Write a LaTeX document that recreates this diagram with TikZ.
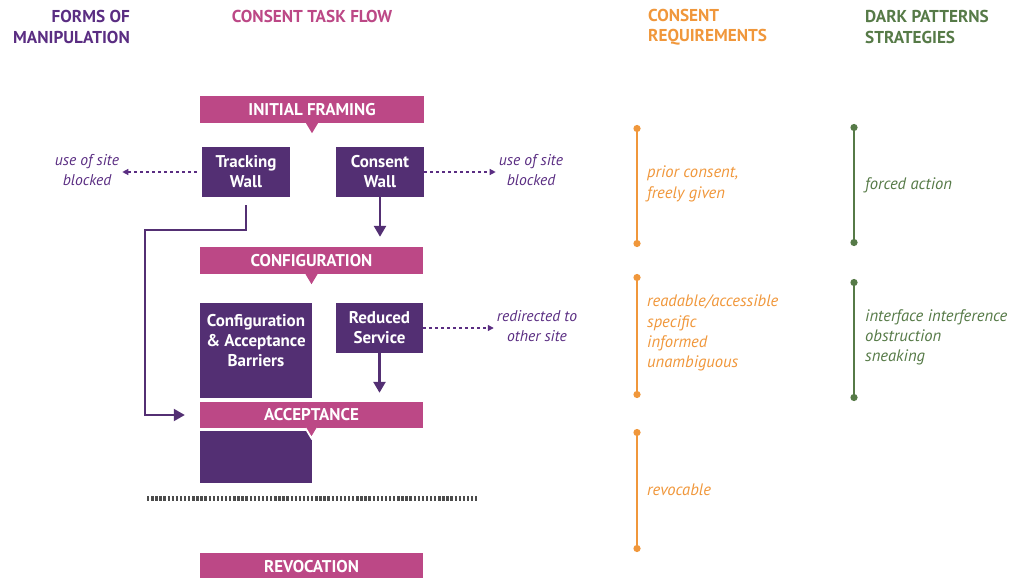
\documentclass[tikz,border=0pt]{standalone}
\usepackage{fontspec}
\setmainfont{PT Sans}
\usetikzlibrary{arrows.meta}
\definecolor{manip}{HTML}{5A2D82}
\definecolor{flow}{HTML}{BC4886}
\definecolor{wallc}{HTML}{532F73}
\definecolor{reqc}{HTML}{F0973B}
\definecolor{darkc}{HTML}{567A47}
\tikzstyle{stage} = [rectangle, fill=flow, text=white, font=\bfseries\fontsize{17}{18}\selectfont,
minimum width=224pt, minimum height=27pt, inner sep=0pt]
\tikzstyle{wall} = [rectangle, fill=wallc, text=white, font=\bfseries\fontsize{17}{20}\selectfont,
align=center, minimum width=88pt, minimum height=50pt, inner sep=0pt]
\tikzstyle{flowarrow} = [line width=2.5pt, draw=wallc, -{Triangle[width=12pt,length=11pt]}]
\tikzstyle{outarrow} = [line width=1.3pt, draw=manip, dash pattern=on 3pt off 3pt,
-{Triangle[width=6pt,length=6pt]}]
\tikzstyle{outcome} = [text=manip, font=\itshape\fontsize{15.6}{20}\selectfont, align=center, inner sep=3pt]
\tikzstyle{heading} = [font=\bfseries\fontsize{17.2}{20.5}\selectfont, inner sep=0pt]
\tikzstyle{reqline} = [line width=2.5pt, draw=reqc, {Circle[length=7pt]}-{Circle[length=7pt]}]
\tikzstyle{darkline} = [line width=2.5pt, draw=darkc, {Circle[length=7pt]}-{Circle[length=7pt]}]
\tikzstyle{reqtext} = [text=reqc, font=\itshape\fontsize{16.6}{20.3}\selectfont, align=left, anchor=west, inner sep=0pt]
\tikzstyle{darktext} = [text=darkc, font=\itshape\fontsize{16.6}{20}\selectfont, align=left, anchor=west, inner sep=0pt]
% pointer under a stage bar
\newcommand{\pointer}[1]{%
  \fill[flow] ([xshift=-6pt]#1.south) -- ([yshift=-10pt]#1.south) -- ([xshift=6pt]#1.south) -- cycle;}

\begin{document}
\begin{tikzpicture}[x=1pt, y=-1pt]
        \useasboundingbox (0,0) rectangle (1013,578);
        % headings
        \node (hmanip) [heading, text=manip, align=right, anchor=east] at (130,27) {FORMS OF\\MANIPULATION};
        \node (hflow) [heading, text=flow] at (312,16) {CONSENT TASK FLOW};
        \node (hreq) [heading, text=reqc, align=left, anchor=west] at (648,27) {CONSENT\\REQUIREMENTS};
        \node (hdark) [heading, text=darkc, align=left, anchor=west] at (865,27) {DARK PATTERNS\\STRATEGIES};
        %
        \node (frame) [stage] at (312,109.5) {INITIAL FRAMING};
        \pointer{frame}
        \node (twall) [wall] at (246,172) {Tracking\\Wall};
        \node (cwall) [wall] at (380,172) {Consent\\Wall};
        \node (cfg) [stage, minimum width=223pt] at (311.5,260.5) {CONFIGURATION};
        \pointer{cfg}
        \node (barrier) [wall, minimum width=112pt, minimum height=95pt] at (256,350.5)
        {Configuration\\\& Acceptance\\Barriers\\\mbox{}};
        \node (rserv) [wall, minimum width=87pt] at (379.5,328) {Reduced\\Service};
        \node (accbox) [wall, minimum width=112pt, minimum height=52pt] at (256,457) {};
        \node (acc) [stage, minimum width=223pt, minimum height=26pt] at (311.5,415) {ACCEPTANCE};
        \pointer{acc}
        \draw[white, line width=1.8pt] ([xshift=-6pt]acc.south) -- ([yshift=-10pt]acc.south) -- ([xshift=6pt]acc.south);
        \node (revoc) [stage, minimum width=223pt] at (311.5,566.5) {REVOCATION};
        %
        \coordinate (bend) at (145,230);
        \coordinate (sepl) at (147,498);
        \coordinate (sepr) at (477,498);
        \draw[flowarrow, shorten >=10pt] (cwall.south) -- (cfg.north -| cwall.south);
        \draw[flowarrow, shorten >=9pt] (rserv.south) -- (acc.north -| rserv.south);
        \draw[flowarrow, line width=2pt] ([yshift=-8pt]twall.south) |- (bend) |- ([xshift=-15pt]acc.west);
        \draw[line width=5pt, draw=black!70, dash pattern=on 2.4pt off 1.7pt] (sepl) -- (sepr);
        %
        \node (blockl) [outcome] at (87,170) {use of site\\blocked};
        \node (blockr) [outcome] at (531,170) {use of site\\blocked};
        \node (redir) [outcome] at (537,326) {redirected to\\other site};
        \draw[outarrow] ([xshift=-5pt]twall.west) -- (blockl.east |- twall.west);
        \draw[outarrow] (cwall.east) -- (blockr.west |- cwall.east);
        \draw[outarrow] (rserv.east) -- (redir.west |- rserv.east);
        %
        \coordinate (r1a) at (637,125);
        \coordinate (r1b) at (637,247);
        \coordinate (r2a) at (637,274);
        \coordinate (r2b) at (637,398);
        \coordinate (r3a) at (637,429);
        \coordinate (r3b) at (637,552);
        \coordinate (d1a) at (854,124);
        \coordinate (d1b) at (854,246);
        \coordinate (d2a) at (854,279);
        \coordinate (d2b) at (854,401);
        \draw[reqline] (r1a) -- (r1b);
        \draw[reqline] (r2a) -- (r2b);
        \draw[reqline] (r3a) -- (r3b);
        \draw[darkline] (d1a) -- (d1b);
        \draw[darkline] (d2a) -- (d2b);
        \node (prior) [reqtext] at (647,184) {prior consent,\\freely given};
        \node (readable) [reqtext] at (647,333) {readable/accessible\\specific\\informed\\unambiguous};
        \node (revocable) [reqtext] at (647,490) {revocable};
        \node (forced) [darktext] at (865,185) {forced action};
        \node (interf) [darktext] at (865,337) {interface interference\\obstruction\\sneaking};
    \end{tikzpicture}
\end{document}
